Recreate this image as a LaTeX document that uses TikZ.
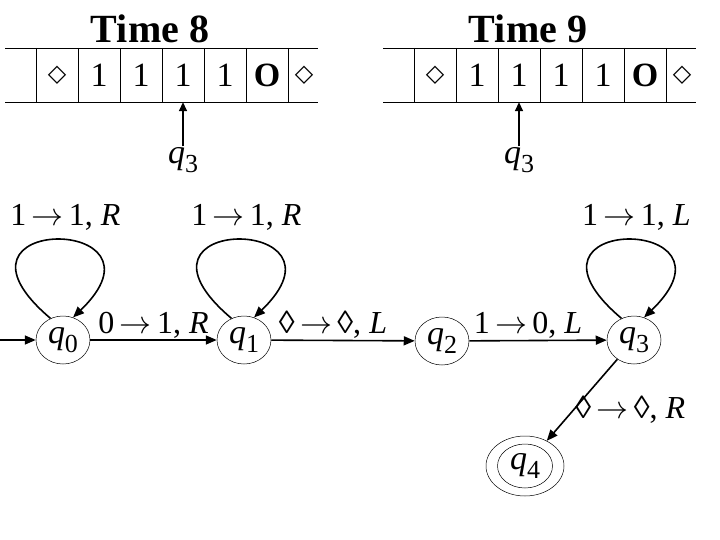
\RequirePackage{fix-cm}
\documentclass[tikz,border=0pt]{standalone}
\usepackage{fontspec}
\setmainfont{Liberation Serif}
\newfontfamily\symfont{DejaVu Sans}
\usetikzlibrary{shapes.geometric,arrows.meta}

\newcommand{\qs}[1]{\textit{q}\raisebox{-.25em}{\fontsize{26}{26}\selectfont #1}}
\newcommand{\blank}{{\symfont\bfseries\fontsize{24}{24}\selectfont ◇}}
\newcommand{\zero}{\textbf{O}}
\newcommand{\goes}{\,$\rightarrow$\,}

\begin{document}
\begin{tikzpicture}[x=1pt,y=-1pt,
    lab/.style={font=\fontsize{32}{34}\selectfont,inner sep=1pt},
    state/.style={draw,ellipse,line width=.5pt,minimum width=54pt,
      minimum height=48pt,inner sep=0pt,font=\fontsize{34}{36}\selectfont},
    cell/.style={minimum width=42pt,minimum height=54pt,inner sep=0pt,
      font=\fontsize{34}{36}\selectfont},
    edge/.style={line width=1.6pt,-{Triangle[length=11pt,width=9pt]}},
    headarr/.style={line width=1.6pt,-{Triangle[length=9pt,width=8pt]}}]
  \useasboundingbox (0,0) rectangle (720,540);
  % the two tapes
  \foreach \dx/\t/\h in {0/8/4,378/9/3}{
    \begin{scope}[xshift=\dx pt]
      \node[font=\bfseries\fontsize{40}{42}\selectfont] (time\t) at (150,29) {Time \t};
      \draw[line width=.8pt] (5,48) -- (318,48) (5,102) -- (318,102);
      \foreach \x in {36,78,...,288} \draw[line width=.8pt] (\x,48) -- (\x,102);
      \foreach \s [count=\i] in {\blank,1,1,1,1,\zero,\blank}
        \node[cell] (c\t\i) at ({15+42*\i-5*(\i==7)},75) {\s};
      \node[lab,font=\fontsize{34}{36}\selectfont] (h\t) at ({15+42*\h},160) {\qs{3}};
      \draw[headarr] (h\t.north) -- (c\t\h.south);
    \end{scope}}
  % the machine
  \coordinate (start) at (0,340);
  \node[state] (q0) at (63,340) {\qs{0}};
  \node[state] (q1) at (244,340) {\qs{1}};
  \node[state] (q2) at (442,341) {\qs{2}};
  \node[state] (q3) at (634,340) {\qs{3}};
  \node[state,minimum width=55pt,minimum height=44pt] (q4) at (525,466) {\qs{4}};
  \node[draw,ellipse,line width=.5pt,minimum width=78pt,minimum height=60pt] (q4o) at (q4) {};
  \draw[edge] (start) -- (q0);
  \draw[edge] (q0) -- node[lab,above] {0\goes1, \textit{R}} (q1);
  \draw[edge] (q1) -- node[lab,above,xshift=-10pt] {◊\goes◊, \textit{L}} (q2);
  \draw[edge] (q2) -- node[lab,above,xshift=-10pt] {1\goes0, \textit{L}} (q3);
  \draw[edge] (q3) -- node[lab,pos=.62,anchor=west] {◊\goes◊, \textit{R}} (q4o);
  \foreach \s/\d in {q0/R,q1/R,q3/L}
    \draw[edge] (\s.120) .. controls +(-124,-105) and +(107,-103) ..
      node[lab,above=8pt,pos=.5,xshift=10pt] {1\goes1, \textit{\d}} (\s.66);
\end{tikzpicture}
\end{document}
